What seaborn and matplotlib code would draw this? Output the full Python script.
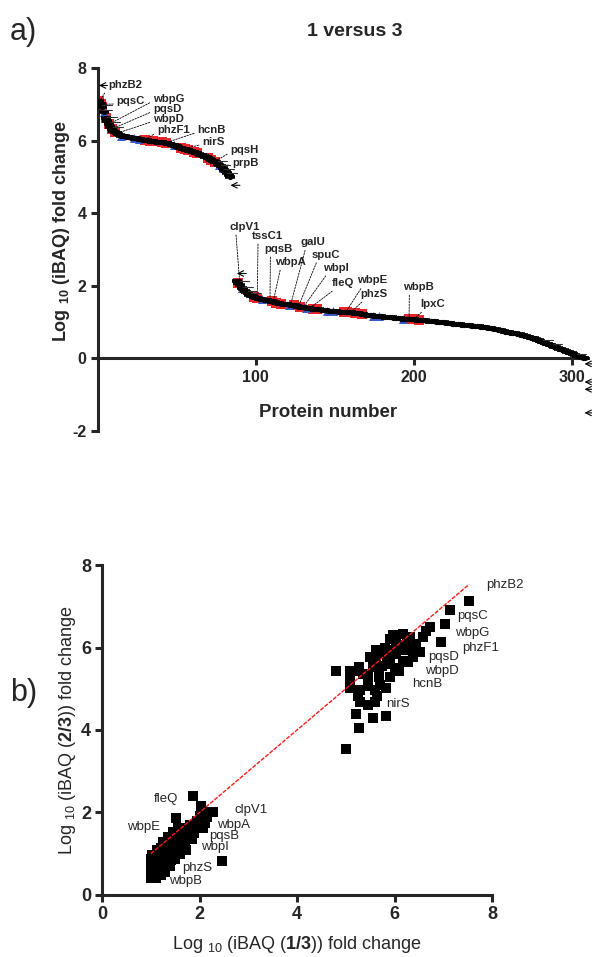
import numpy as np
import pandas as pd
import matplotlib
matplotlib.use('Agg')
import matplotlib.pyplot as plt
import seaborn as sns

# ---- panel a: sorted fold changes (1 versus 3) ----
first_start = 1
fold_first = [
    7.08, 7.00, 6.92, 6.78, 6.62, 6.55, 6.45, 6.38, 6.32, 6.27,
    6.23, 6.20, 6.18, 6.16, 6.14, 6.13, 6.12, 6.11, 6.10, 6.09,
    6.08, 6.07, 6.07, 6.06, 6.05, 6.04, 6.04, 6.03, 6.02, 6.02,
    6.01, 6.00, 6.00, 5.99, 5.98, 5.97, 5.97, 5.96, 5.96, 5.95,
    5.95, 5.94, 5.94, 5.93, 5.92, 5.90, 5.88, 5.87, 5.85, 5.84,
    5.82, 5.81, 5.80, 5.78, 5.77, 5.75, 5.74, 5.72, 5.71, 5.69,
    5.68, 5.66, 5.65, 5.63, 5.61, 5.60, 5.58, 5.56, 5.54, 5.52,
    5.50, 5.47, 5.45, 5.42, 5.40, 5.37, 5.33, 5.29, 5.25, 5.20,
    5.15, 5.10, 5.05, 4.99]

second_start = 88
fold_second = [
    2.12, 2.09, 2.02, 1.95, 1.90, 1.86, 1.82, 1.79, 1.76, 1.73,
    1.71, 1.69, 1.67, 1.66, 1.65, 1.64, 1.63, 1.62, 1.61, 1.60,
    1.59, 1.58, 1.57, 1.56, 1.55, 1.54, 1.53, 1.52, 1.51, 1.50,
    1.50, 1.49, 1.49, 1.48, 1.47, 1.46, 1.46, 1.45, 1.44, 1.43,
    1.43, 1.42, 1.41, 1.40, 1.40, 1.39, 1.38, 1.37, 1.37, 1.36,
    1.36, 1.35, 1.35, 1.34, 1.34, 1.33, 1.33, 1.32, 1.32, 1.31,
    1.31, 1.30, 1.30, 1.30, 1.29, 1.29, 1.29, 1.28, 1.28, 1.28,
    1.27, 1.27, 1.27, 1.26, 1.26, 1.25, 1.24, 1.24, 1.23, 1.22,
    1.22, 1.21, 1.21, 1.20, 1.19, 1.19, 1.18, 1.18, 1.17, 1.17,
    1.16, 1.16, 1.15, 1.15, 1.15, 1.14, 1.14, 1.13, 1.13, 1.12,
    1.12, 1.11, 1.11, 1.11, 1.10, 1.10, 1.10, 1.09, 1.09, 1.09,
    1.08, 1.08, 1.08, 1.07, 1.07, 1.06, 1.06, 1.05, 1.05, 1.05,
    1.04, 1.04, 1.03, 1.03, 1.02, 1.02, 1.01, 1.01, 1.00, 1.00,
    0.99, 0.99, 0.98, 0.98, 0.97, 0.97, 0.96, 0.96, 0.95, 0.95,
    0.94, 0.94, 0.93, 0.93, 0.92, 0.92, 0.91, 0.91, 0.90, 0.90,
    0.89, 0.89, 0.88, 0.88, 0.87, 0.87, 0.86, 0.86, 0.85, 0.85,
    0.84, 0.83, 0.82, 0.81, 0.80, 0.79, 0.78, 0.77, 0.76, 0.75,
    0.74, 0.73, 0.72, 0.71, 0.70, 0.69, 0.69, 0.68, 0.67, 0.66,
    0.65, 0.64, 0.62, 0.61, 0.60, 0.58, 0.57, 0.56, 0.55, 0.53,
    0.52, 0.50, 0.48, 0.46, 0.44, 0.43, 0.41, 0.39, 0.37, 0.36,
    0.34, 0.32, 0.31, 0.29, 0.27, 0.26, 0.24, 0.22, 0.21, 0.19,
    0.17, 0.16, 0.14, 0.12, 0.10, 0.08, 0.07, 0.05, 0.03, 0.02,
    0.00]

red_proteins = [1, 2, 3, 5, 7, 9, 11, 30, 33, 35, 41, 43, 53, 55, 57, 61, 63, 70, 72, 74,
                89, 99, 101, 110, 113, 116, 124, 128, 136, 139, 156, 158, 163, 167,
                197, 200, 203]
blue_proteins = [4, 15, 23, 26, 48, 77, 79,
                 91, 104, 121, 132, 145, 149, 174, 178, 193]

names_a = ['phzB2', 'pqsC', 'wbpG', 'pqsD', 'wbpD', 'phzF1', 'hcnB', 'nirS', 'pqsH', 'prpB',
           'clpV1', 'tssC1', 'pqsB', 'wbpA', 'galU', 'spuC', 'wbpI', 'fleQ', 'wbpE', 'phzS',
           'wbpB', 'lpxC']
name_protein_a = [1, 2, 7, 9, 12, 30, 43, 55, 74, 77,
                  90, 101, 109, 111, 122, 127, 130, 134, 157, 160, 197, 200]

# ---- panel b: 1/3 vs 2/3 ----
fold_13 = [7.53, 7.13, 7.03, 6.95, 6.65, 6.72, 6.58, 6.52, 6.45, 6.38,
           6.31, 6.31, 6.28, 6.17, 6.17, 6.10, 6.04, 6.04, 6.20, 5.97,
           5.97, 5.90, 5.90, 5.90, 5.83, 5.83, 5.80, 5.76, 5.69, 5.69,
           5.63, 5.63, 5.56, 5.56, 5.49, 5.35, 5.28, 5.28, 5.22, 5.22,
           5.08, 5.08, 5.08, 5.01, 4.80, 6.00, 6.12, 5.75, 6.25, 5.85,
           5.45, 5.70, 5.25, 5.65, 5.45, 5.45, 5.30, 5.60, 5.30, 5.60,
           1.00, 1.00, 1.00, 1.00, 1.00, 1.02, 1.05, 1.10, 1.10, 1.12,
           1.10, 1.12, 1.20, 1.22, 1.20, 1.22, 1.20, 1.25, 1.30, 1.30,
           1.32, 1.30, 1.33, 1.35, 1.40, 1.42, 1.40, 1.45, 1.42, 1.45,
           1.50, 1.52, 1.55, 1.52, 1.52, 1.55, 1.60, 1.62, 1.65, 1.62,
           1.68, 1.72, 1.70, 1.75, 1.78, 1.80, 1.85, 1.88, 1.90, 1.95,
           2.00, 1.86, 2.03, 2.08, 2.12, 2.15, 2.20, 2.28, 2.46]
fold_23 = [7.13, 6.90, 6.56, 6.13, 6.41, 6.49, 6.25, 5.89, 6.09, 5.76,
           6.25, 5.93, 5.64, 6.33, 5.68, 5.44, 6.17, 5.85, 6.05, 5.93,
           6.30, 6.20, 5.60, 5.28, 5.03, 4.34, 6.00, 5.85, 5.44, 5.28,
           5.93, 5.70, 5.52, 4.30, 5.76, 5.36, 5.52, 4.06, 5.44, 4.38,
           5.44, 5.20, 5.03, 3.53, 5.44, 5.50, 5.95, 5.55, 6.10, 5.75,
           5.30, 5.10, 4.83, 4.83, 5.06, 4.60, 4.97, 4.97, 4.68, 4.68,
           0.40, 0.52, 0.64, 0.76, 0.88, 0.97, 0.45, 0.42, 0.60, 0.78,
           0.95, 1.08, 0.48, 0.65, 0.82, 1.00, 1.15, 1.28, 0.55, 0.72,
           0.90, 1.05, 1.20, 1.40, 0.70, 0.85, 1.00, 1.15, 1.30, 1.52,
           0.88, 1.05, 1.20, 1.38, 1.86, 1.62, 1.00, 1.15, 1.30, 1.48,
           1.62, 1.10, 1.25, 1.40, 1.55, 1.70, 1.35, 1.50, 1.65, 1.80,
           1.92, 2.41, 2.15, 1.62, 1.75, 1.90, 2.00, 2.02, 0.82]

names_b = ['phzB2', 'pqsC', 'wbpG', 'phzF1', 'pqsD', 'wbpD', 'hcnB', 'nirS',
           'fleQ', 'clpV1', 'wbpE', 'wbpA', 'pqsB', 'wbpI', 'phzS', 'wbpB']

# label text positions (layout)
text_pos_a = [(6.5, 7.52), (12, 7.08), (35, 7.16), (35, 6.88), (35, 6.6), (37.5, 6.3),
              (63, 6.3), (66, 5.97), (84, 5.75), (85, 5.39),
              (83.5, 3.63), (97.5, 3.38), (105.7, 3.02), (112, 2.66), (128.6, 3.2),
              (135.6, 2.86), (142.5, 2.5), (148.3, 2.08), (164, 2.15), (166, 1.78),
              (193.3, 1.97), (204, 1.5)]
text_pos_b = [(7.89, 7.52), (7.29, 6.76), (7.25, 6.35), (7.38, 5.99), (6.70, 5.77),
              (6.62, 5.43), (6.37, 5.12), (5.82, 4.63), (1.07, 2.33), (2.72, 2.06),
              (0.52, 1.65), (2.35, 1.70), (2.20, 1.42), (2.04, 1.16), (1.65, 0.65),
              (1.38, 0.34)]

sns.set_style('ticks')
plt.rcParams['font.family'] = ['Liberation Sans', 'DejaVu Sans']
plt.rcParams['axes.unicode_minus'] = False
plt.rcParams['mathtext.default'] = 'regular'
plt.rcParams['mathtext.fontset'] = 'custom'
plt.rcParams['mathtext.rm'] = 'Liberation Sans'
plt.rcParams['mathtext.bf'] = 'Liberation Sans:bold'

proteins = list(range(first_start, first_start + len(fold_first))) + \
    list(range(second_start, second_start + len(fold_second)))
df_a = pd.DataFrame({'protein': proteins, 'fold': fold_first + fold_second})
df_a['kind'] = 'other'
df_a.loc[df_a['protein'].isin(red_proteins), 'kind'] = 'red'
df_a.loc[df_a['protein'].isin(blue_proteins), 'kind'] = 'blue'
fold_of = dict(zip(df_a['protein'], df_a['fold']))

fig = plt.figure(figsize=(5.92, 9.57), dpi=100)
ax = fig.add_axes([0.165, 0.5496, 0.8277, 0.3793])

sns.scatterplot(data=df_a[df_a['kind'] == 'red'], x='protein', y='fold', marker='s',
                s=48, color='#e8262a', linewidth=0, ax=ax, zorder=2)
sns.scatterplot(data=df_a[df_a['kind'] == 'blue'], x='protein', y='fold', marker='^',
                s=42, color='#3a5bc7', linewidth=0, ax=ax, zorder=2)
ax.plot(df_a['protein'], df_a['fold'], ls='none', marker='_', ms=7, mew=2.6,
        color='black', zorder=3)
sns.scatterplot(data=df_a, x='protein', y='fold', marker='o', s=14, color='black',
                linewidth=0, ax=ax, zorder=3)

for i, (name, p) in enumerate(zip(names_a, name_protein_a)):
    tx, ty = text_pos_a[i]
    rel = (0.0, 0.25) if p < 88 else (0.2, 0.0)
    ax.annotate(name, xy=(p, fold_of[p]), xytext=(tx, ty), fontsize=8.2, fontweight='bold',
                ha='left', va='center', annotation_clip=False,
                arrowprops=dict(arrowstyle='-', ls=(0, (2, 1.5)), lw=0.6, color='black',
                                shrinkA=0, shrinkB=0, relpos=rel))

# unlabelled leader arrows and stubs
ax.annotate('', xy=(0.8, 7.52), xytext=(6.2, 7.52), annotation_clip=False,
            arrowprops=dict(arrowstyle='->', lw=0.8, color='black', shrinkA=0, shrinkB=0))
for p, dy in [(84, -0.22), (88, 0.22), (308, -0.15), (308, -0.65), (308, -0.85), (308, -1.5)]:
    ax.annotate('', xy=(p, fold_of[p] + dy), xytext=(p + 6, fold_of[p] + dy),
                annotation_clip=False,
                arrowprops=dict(arrowstyle='->', lw=0.8, color='black', shrinkA=0, shrinkB=0))
for p, dy in [(3, 0.05), (3, -0.08), (6, 0.1), (8, 0.12), (10, 0.1), (76, 0.08), (78, 0.05),
              (80, 0.03), (82, 0.02), (90, 0.1), (92, 0.08), (95, 0.07), (97, 0.06),
              (282, 0.06), (288, 0.05), (303, 0.03)]:
    ax.plot([p, p + 6], [fold_of[p] + dy, fold_of[p] + dy], color='#333333', lw=0.8, zorder=3)

ax.set_xlim(0, 310)
ax.set_ylim(-2, 8)
ax.set_xticks([100, 200, 300])
ax.set_yticks([-2, 0, 2, 4, 6, 8])
ax.spines['bottom'].set_position(('data', 0))
ax.spines['top'].set_visible(False)
ax.spines['right'].set_visible(False)
for s in ['left', 'bottom']:
    ax.spines[s].set_linewidth(2.2)
ax.tick_params(width=2.2, length=5, labelsize=11.5, pad=3)
for lab in ax.get_xticklabels() + ax.get_yticklabels():
    lab.set_fontweight('bold')
ax.set_xlabel('Protein number', fontsize=13.5, fontweight='bold')
ax.xaxis.set_label_coords(0.47, 0.052)
ax.xaxis.label.set_va('center')
ax.set_ylabel('Log $_{10}$ (iBAQ) fold change', fontsize=13, fontweight='bold')
ax.yaxis.set_label_coords(-0.073, 0.551)
ax.yaxis.label.set_va('center')

fig.text(355 / 592, 1 - 32 / 957, '1 versus 3', fontsize=14, fontweight='bold',
         ha='center', va='center')
fig.text(10 / 592, 1 - 32 / 957, 'a)', fontsize=22, ha='left', va='center')
fig.text(10 / 592, 1 - 693 / 957, 'b)', fontsize=22, ha='left', va='center')

# ---- panel b ----
axb = fig.add_axes([0.1723, 0.0648, 0.6588, 0.3448])
df_b = pd.DataFrame({'x': fold_13, 'y': fold_23})
sns.scatterplot(data=df_b, x='x', y='y', marker='s', s=58, color='black', linewidth=0,
                ax=axb, zorder=2)
lo, hi = min(fold_13), max(fold_13)
axb.plot([lo, hi], [lo, hi], color='#ff1a1a', lw=1.0, ls=(0, (3, 1)), zorder=3)

for name, (tx, ty) in zip(names_b, text_pos_b):
    axb.text(tx, ty, name, fontsize=9.5, ha='left', va='center', clip_on=False)

axb.set_xlim(0, 8)
axb.set_ylim(0, 8)
axb.set_xticks([0, 2, 4, 6, 8])
axb.set_yticks([0, 2, 4, 6, 8])
axb.spines['top'].set_visible(False)
axb.spines['right'].set_visible(False)
for s in ['left', 'bottom']:
    axb.spines[s].set_linewidth(2.2)
axb.tick_params(width=2.2, length=5, labelsize=13, pad=3)
for lab in axb.get_xticklabels() + axb.get_yticklabels():
    lab.set_fontweight('bold')
axb.set_xlabel(r'Log $_{10}$ (iBAQ ($\mathbf{1/3}$)) fold change', fontsize=13)
axb.xaxis.set_label_coords(0.5, -0.15)
axb.xaxis.label.set_va('center')
axb.set_ylabel(r'Log $_{10}$ (iBAQ ($\mathbf{2/3}$)) fold change', fontsize=13)
axb.yaxis.set_label_coords(-0.088, 0.5)
axb.yaxis.label.set_va('center')

fig.savefig('out.png', dpi=100)
